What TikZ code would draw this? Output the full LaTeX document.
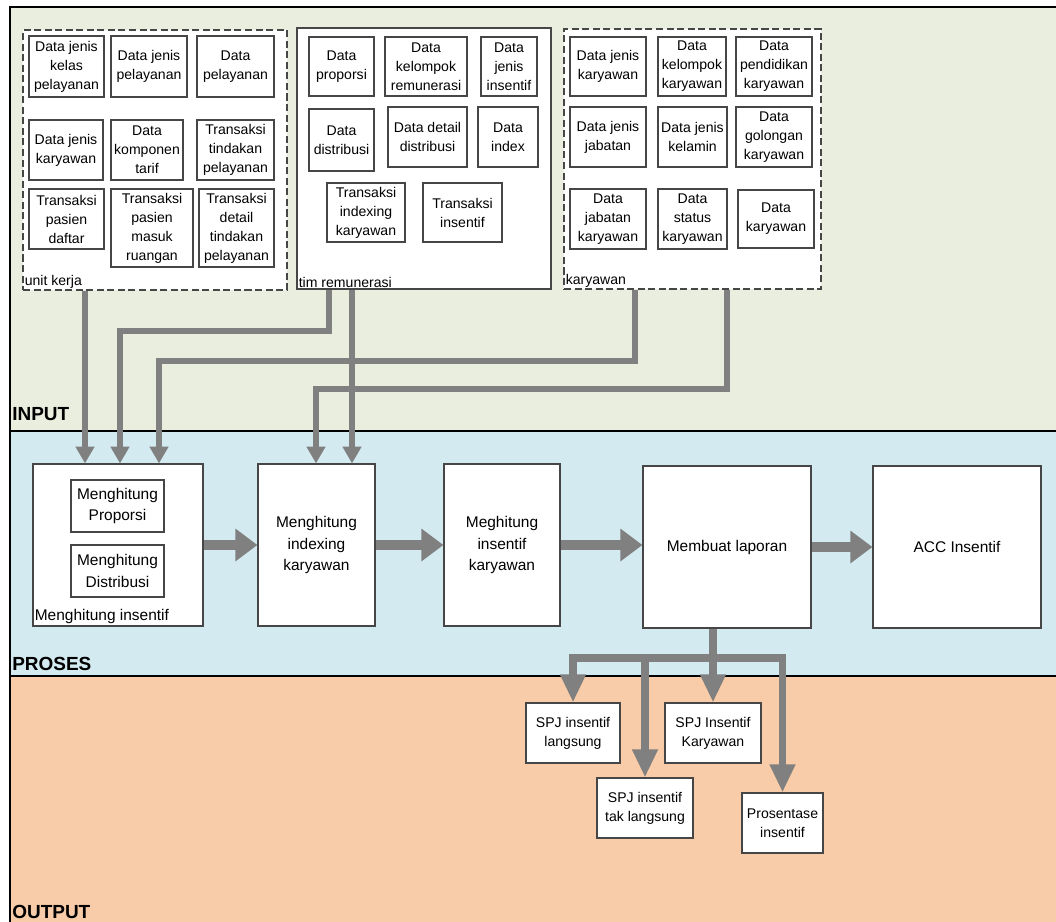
\documentclass[tikz,border=0pt]{standalone}
\usepackage{fontspec}
\setmainfont{Liberation Sans}
\usetikzlibrary{arrows.meta}

\definecolor{inputbg}{RGB}{234,238,222}
\definecolor{prosesbg}{RGB}{210,234,240}
\definecolor{outputbg}{RGB}{248,204,168}
\definecolor{boxline}{RGB}{70,70,70}
\definecolor{arrowgray}{RGB}{128,128,128}

\tikzset{
  databox/.style 2 args={draw=boxline, fill=white, line width=0.8pt, align=center,
    inner sep=1pt, minimum width=#1*0.025cm, minimum height=#2*0.025cm,
    font=\fontsize{10}{13.5}\selectfont},
  procbox/.style 2 args={databox={#1}{#2}, font=\fontsize{11}{15.5}\selectfont},
  grpbox/.style 2 args={draw=boxline, fill=white, line width=0.8pt, inner sep=0pt,
    minimum width=#1*0.025cm, minimum height=#2*0.025cm},
  dashgrp/.style={dash pattern=on 5pt off 2.5pt},
  grplabel/.style={anchor=south west, inner sep=1.5pt, font=\fontsize{10}{12}\selectfont},
  bandlabel/.style={anchor=base west, inner sep=0pt, font=\fontsize{13.5}{16}\selectfont\bfseries},
  inarrow/.style={draw=arrowgray, line width=4.3pt, -{Triangle[width=0.45cm,length=0.42cm]}},
  procarrow/.style={draw=arrowgray, line width=7pt, -{Triangle[width=0.78cm,length=0.55cm]}},
  outarrow/.style={draw=arrowgray, line width=5.5pt, -{Triangle[width=0.6cm,length=0.7cm]}},
}

\begin{document}
\begin{tikzpicture}[x=0.025cm,y=-0.025cm]
\useasboundingbox (0,0) rectangle (1056,921);
\clip (0,0) rectangle (1056,921);

% bands
\fill[inputbg] (10,7) rectangle (1070,431);
\fill[prosesbg] (10,431) rectangle (1070,676);
\fill[outputbg] (10,676) rectangle (1070,930);
\draw[line width=1.2pt] (1070,7) -- (10,7) -- (10,930);
\draw[line width=1.2pt] (10,431) -- (1070,431);
\draw[line width=1.2pt] (10,676) -- (1070,676);
\node[bandlabel] (lin) at (12,420) {INPUT};
\node[bandlabel] (lpro) at (12,670) {PROSES};
\node[bandlabel] (lout) at (12,918) {OUTPUT};

% input groups
\node[grpbox={264}{260}, dashgrp] (uk) at (155,160) {};
\node[grplabel] at (uk.south west) {unit kerja};
\node[grpbox={254}{261}] (tim) at (424,158.5) {};
\node[grplabel] at (tim.south west) {tim remunerasi};
\node[grpbox={257}{260}, dashgrp] (kar) at (692.5,159) {};
\node[grplabel] at (kar.south west) {karyawan};

% unit kerja
\node[databox={75}{61}] (u1) at (66.5,66.5) {Data jenis\\kelas\\pelayanan};
\node[databox={76}{61}] (u2) at (149,66.5) {Data jenis\\pelayanan};
\node[databox={77}{61}] (u3) at (235.5,66.5) {Data\\pelayanan};
\node[databox={74}{60}] (u4) at (66,150) {Data jenis\\karyawan};
\node[databox={72}{60}] (u5) at (147,150) {Data\\komponen\\tarif};
\node[databox={77}{60}] (u6) at (235.5,150) {Transaksi\\tindakan\\pelayanan};
\node[databox={75}{60}] (u7) at (66.5,219) {Transaksi\\pasien\\daftar};
\node[databox={82}{78}] (u8) at (152,228) {Transaksi\\pasien\\masuk\\ruangan};
\node[databox={75}{78}] (u9) at (236.5,228) {Transaksi\\detail\\tindakan\\pelayanan};

% tim remunerasi
\node[databox={65}{59}] (t1) at (341.5,66.5) {Data\\proporsi};
\node[databox={82}{59}] (t2) at (426,66.5) {Data\\kelompok\\remunerasi};
\node[databox={56}{59}] (t3) at (509,66.5) {Data\\jenis\\insentif};
\node[databox={65}{62}] (t4) at (341.5,140) {Data\\distribusi};
\node[databox={79}{60}] (t5) at (427.5,137) {Data detail\\distribusi};
\node[databox={60}{60}] (t6) at (508,137) {Data\\index};
\node[databox={78}{59}] (t7) at (366,212.5) {Transaksi\\indexing\\karyawan};
\node[databox={79}{59}] (t8) at (462.5,212.5) {Transaksi\\insentif};

% karyawan
\node[databox={76}{59}] (k1) at (608,66.5) {Data jenis\\karyawan};
\node[databox={68}{59}] (k2) at (692,66.5) {Data\\kelompok\\karyawan};
\node[databox={76}{59}] (k3) at (774,66.5) {Data\\pendidikan\\karyawan};
\node[databox={76}{60}] (k4) at (608,137) {Data jenis\\jabatan};
\node[databox={69}{60}] (k5) at (692.5,137) {Data jenis\\kelamin};
\node[databox={76}{60}] (k6) at (774,137) {Data\\golongan\\karyawan};
\node[databox={76}{60}] (k7) at (608,219) {Data\\jabatan\\karyawan};
\node[databox={69}{60}] (k8) at (692.5,219) {Data\\status\\karyawan};
\node[databox={76}{58}] (k9) at (776,219) {Data\\karyawan};

% proses
\node[procbox={170}{162}] (p1) at (118,545) {};
\node[grplabel, font=\fontsize{11}{13}\selectfont] at (p1.south west) {Menghitung insentif};
\node[procbox={93}{52}] (p1a) at (117.5,506) {Menghitung\\Proporsi};
\node[procbox={93}{52}] (p1b) at (117.5,571) {Menghitung\\Distribusi};
\node[procbox={117}{162}] (p2) at (316.5,545) {Menghitung\\indexing\\karyawan};
\node[procbox={116}{162}] (p3) at (502,545) {Meghitung\\insentif\\karyawan};
\node[procbox={168}{162}] (p4) at (727,547) {Membuat laporan};
\node[procbox={168}{162}] (p5) at (957,547) {ACC Insentif};

% output
\node[databox={94}{60}] (o1) at (573,733) {SPJ insentif\\langsung};
\node[databox={96}{60}] (o2) at (713,733) {SPJ Insentif\\Karyawan};
\node[databox={96}{60}] (o3) at (645,808) {SPJ insentif\\tak langsung};
\node[databox={81}{60}] (o4) at (782.5,823) {Prosentase\\insentif};

% input arrows
\coordinate (x1) at (85,0);
\coordinate (x2) at (120,0);
\coordinate (x3) at (159,0);
\coordinate (x4) at (316,0);
\coordinate (x5) at (352,0);
\coordinate (s2) at (329,0);
\coordinate (s3) at (635,0);
\coordinate (s4) at (727,0);
\draw[inarrow] (uk.south -| x1) -- (p1.north -| x1);
\draw[inarrow] (tim.south -| s2) -- ++(0,41) -| (p1.north -| x2);
\draw[inarrow] (kar.south -| s3) -- ++(0,71) -| (p1.north -| x3);
\draw[inarrow] (kar.south -| s4) -- ++(0,99) -| (p2.north -| x4);
\draw[inarrow] (tim.south -| x5) -- (p2.north -| x5);

% proses arrows
\draw[procarrow] (p1.east) -- (p2.west);
\draw[procarrow] (p2.east) -- (p3.west);
\draw[procarrow] (p3.east) -- (p3.east -| p4.west);
\draw[procarrow] (p4.east) -- (p5.west);

% output arrows
\coordinate (bus) at (713,658);
\draw[outarrow] (p4.south -| bus) -- (o2.north);
\draw[outarrow] (p4.south -| bus) -- (bus) -| (o1.north);
\draw[outarrow] (p4.south -| bus) -- (bus) -| (o3.north);
\draw[outarrow] (p4.south -| bus) -- (bus) -| (o4.north);
\end{tikzpicture}
\end{document}
